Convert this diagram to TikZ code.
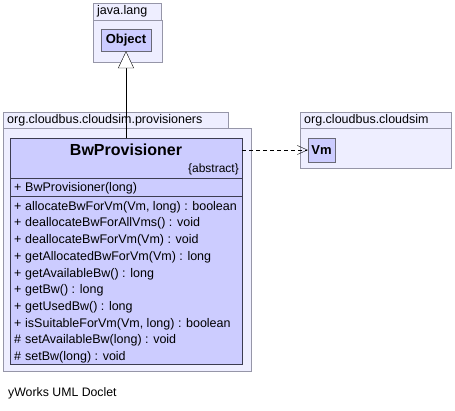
\documentclass[tikz,border=0pt]{standalone}
\usepackage{fontspec}
\setmainfont{Liberation Sans}
\usetikzlibrary{arrows.meta}
\definecolor{pkgfill}{RGB}{238,238,255}
\definecolor{pkgline}{RGB}{150,150,168}
\definecolor{clsfill}{RGB}{204,204,255}
\definecolor{clsline}{RGB}{60,60,80}

\begin{document}
\begin{tikzpicture}[x=1pt,y=-1pt,
    pkg/.style={draw=pkgline,fill=pkgfill},
    cls/.style={draw=clsline,fill=clsfill},
    pkgname/.style={anchor=west,inner sep=0pt,font=\fontsize{12.5}{14}\selectfont},
    member/.style={anchor=base west,inner sep=0pt,font=\fontsize{12.5}{14}\selectfont},
    small/.style={cls,draw=pkgline!70!black,inner sep=3pt,font=\bfseries\fontsize{13}{15}\selectfont}]
    \useasboundingbox (0,0) rectangle (455,410);

    %java.lang
    \draw[pkg] (93,3) rectangle (161,20);
    \draw[pkg] (93,20) rectangle (162,62);
    \node[pkgname] (jl) at (97,11.5) {java.lang};
    \node[small,minimum width=50pt,minimum height=22pt] (obj) at (126,40) {Object};

    %org.cloudbus.cloudsim.provisioners
    \draw[pkg] (3,112) rectangle (228,128);
    \draw[pkg] (3,128) rectangle (251,371);
    \node[pkgname] (prov) at (7,120) {org.cloudbus.cloudsim.provisioners};

    %BwProvisioner
    \node[cls,minimum width=232pt,minimum height=226pt,inner sep=0pt] (cls) at (126,251) {};
    \node[font=\bfseries\fontsize{16}{18}\selectfont] (clsname) at (126,150) {BwProvisioner};
    \node[anchor=east,inner sep=0pt,font=\fontsize{12}{14}\selectfont] (abs) at (239,169) {\{abstract\}};
    \draw[clsline] (10,178) -- (242,178);
    \draw[clsline] (10,196) -- (242,196);
    \node[member] (v0) at (14,191.5) {+};
    \node[member] (m0) at (25,191.5) {BwProvisioner(long)};
    \foreach \vis/\txt [count=\i] in {
        +/{allocateBwForVm(Vm, long) : boolean},
        +/{deallocateBwForAllVms() : void},
        +/{deallocateBwForVm(Vm) : void},
        +/{getAllocatedBwForVm(Vm) : long},
        +/{getAvailableBw() : long},
        +/{getBw() : long},
        +/{getUsedBw() : long},
        +/{isSuitableForVm(Vm, long) : boolean},
        \#/{setAvailableBw(long) : void},
        \#/{setBw(long) : void}}
    {
        \node[member] (v\i) at (14,193.5+16.7*\i) {\vis};
        \node[member] (m\i) at (25,193.5+16.7*\i) {\txt};
    }

    %org.cloudbus.cloudsim
    \draw[pkg] (300,112) rectangle (451,128);
    \draw[pkg] (300,128) rectangle (451,168);
    \node[pkgname] (cs) at (304,120) {org.cloudbus.cloudsim};
    \node[small,minimum width=27pt,minimum height=24pt] (vm) at (321.5,150) {Vm};

    %relations
    \draw[-{Triangle[open,length=17pt,width=16pt,fill=white]}] (cls.north) -- (obj.south);
    \draw[dash pattern=on 4pt off 3pt,-{Straight Barb[length=10pt,width=9pt]}] (cls.east |- vm.west) -- (vm.west);

    \node[anchor=west,inner sep=0pt,font=\fontsize{12.3}{14}\selectfont] (doclet) at (8,393) {yWorks UML Doclet};
\end{tikzpicture}
\end{document}
